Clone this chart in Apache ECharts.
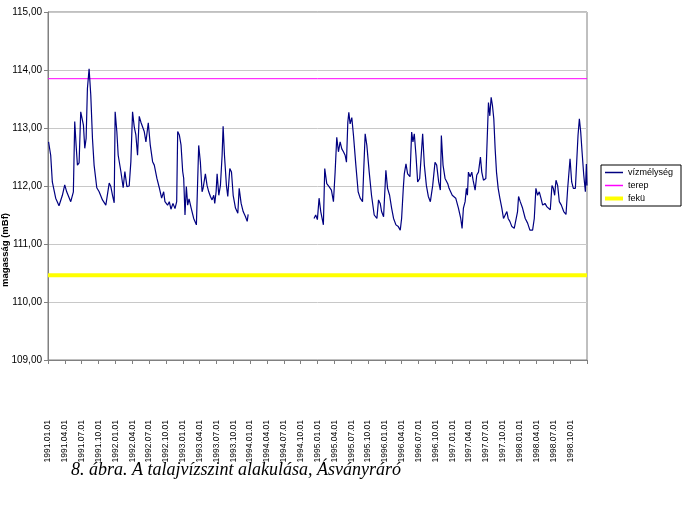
<!DOCTYPE html>
<html>
<head>
<meta charset="utf-8">
<script src="https://cdn.jsdelivr.net/npm/echarts@6/dist/echarts.min.js"></script>
<style>
  html, body { margin: 0; padding: 0; background: #fff; }
  #abra { width: 682px; height: 516px; }
</style>
</head>
<body>
<div id="abra"></div>
<script>
// mérés időpontja (hónap 1991.01.01-től) és vízszint (mBf); null = hiányzó adat
const honap = [
  0.1, 0.48, 0.77, 1.37, 1.96, 2.56, 2.98, 3.33, 4.05, 4.52,
  4.76, 5.0, 5.24, 5.54, 5.83, 6.13, 6.31, 6.55, 6.79, 7.02,
  7.32, 7.62, 7.92, 8.21, 8.69, 9.11, 9.7, 10.3, 10.9, 11.19,
  11.49, 11.79, 11.96, 12.26, 12.5, 12.98, 13.39, 13.69, 14.05, 14.46,
  14.76, 15.06, 15.36, 15.65, 15.95, 16.25, 16.55, 16.85, 17.14, 17.44,
  17.86, 18.21, 18.63, 18.93, 19.4, 19.82, 20.24, 20.6, 20.83, 21.3,
  21.6, 21.9, 22.26, 22.62, 22.92, 23.1, 23.39, 23.69, 23.99,
  24.17, 24.4, 24.64, 24.88, 25.12, 25.5, 25.95, 26.43, 26.67, 26.84,
  27.14, 27.44, 27.62, 28.03, 28.33, 28.63, 28.93, 29.22, 29.52, 29.7,
  29.94, 30.12, 30.42, 30.71, 31.01, 31.19, 31.43, 31.78, 32.02, 32.38,
  32.68, 32.98, 33.39, 33.81, 34.05, 34.4, 34.76, 35.18, 35.48, 35.65,
  41,
  47.38, 47.68, 47.98, 48.28, 48.58, 49.05, 49.29, 49.65, 50.06, 50.48,
  50.84, 51.14, 51.43, 51.73, 52.03, 52.33, 52.62, 52.92, 53.16, 53.4,
  53.58, 53.81, 54.11, 54.41, 54.83, 55.24, 55.6, 56.02, 56.2, 56.49,
  56.79, 57.21, 57.62, 58.1, 58.58, 58.87, 59.17, 59.41, 59.77, 60.18,
  60.48, 60.84, 61.2, 61.55, 61.97, 62.39, 62.74, 62.98, 63.28, 63.46,
  63.76, 64.05, 64.47, 64.77, 65.0, 65.24, 65.54, 65.84, 66.2, 66.43,
  66.73, 67.03, 67.39, 67.74, 68.1, 68.52, 68.93, 69.23, 69.58, 69.88,
  70.06, 70.36, 70.72, 71.2,
  71.43, 72.0, 72.62, 73.1, 73.51, 73.75, 73.99, 74.29, 74.52, 74.7,
  74.88, 75.18, 75.48, 75.71, 76.07, 76.37, 76.67, 77.02, 77.26, 77.56,
  77.98, 78.27, 78.45, 78.69, 78.93, 79.17, 79.4, 79.64, 79.88, 80.18,
  80.48, 80.83, 81.13, 81.43, 81.73, 81.96, 82.26, 82.62, 83.04, 83.33,
  83.63, 83.81, 84.11, 84.52, 85.0, 85.42, 85.83, 86.31, 86.61, 86.9,
  87.2, 87.5, 87.8, 88.1, 88.51, 88.87, 89.17, 89.46, 89.76, 90.0,
  90.24, 90.48, 90.77, 91.07, 91.43, 91.85, 92.26, 92.56, 92.98, 93.27,
  93.57, 93.93, 94.17, 94.4, 94.64, 94.88, 95.12, 95.42, 95.71, 95.89,
  96.0
];
const vizszint = [
  112.76, 112.53, 112.07, 111.79, 111.66, 111.84, 112.02, 111.90, 111.73, 111.90,
  113.11, 112.71, 112.36, 112.40, 113.28, 113.28, 113.05, 112.65, 112.82, 113.68,
  114.02, 113.57, 112.82, 112.36, 111.97, 111.90, 111.76, 111.67, 112.05, 111.99,
  111.84, 111.71, 113.28, 112.94, 112.53, 112.25, 111.97, 112.25, 111.99, 112.00,
  112.42, 113.28, 113.02, 112.88, 112.53, 113.20, 113.10, 113.11, 112.94, 112.76,
  113.09, 112.71, 112.42, 112.36, 112.13, 111.97, 111.79, 111.90, 111.73, 111.67,
  111.73, 111.60, 111.70, 111.61, 111.73, 112.94, 112.88, 112.71, 112.25,
  112.13, 111.50, 111.99, 111.67, 111.78, 111.62, 111.44, 111.33, 111.30, 112.70,
  112.41, 111.90, 111.96, 112.21, 112.01, 111.90, 111.82, 111.76, 111.84, 111.70,
  111.90, 112.21, 111.84, 112.01, 112.53, 113.03, 112.53, 112.01, 111.82, 112.30,
  112.24, 111.84, 111.62, 111.53, 111.96, 111.70, 111.56, 111.47, 111.39, 111.51,
  null,
  111.44, 111.50, 111.42, 111.79, 111.56, 111.33, 112.30, 112.04, 111.99, 111.93,
  111.73, 112.24, 112.84, 112.59, 112.76, 112.64, 112.59, 112.53, 112.41, 113.10,
  113.27, 113.07, 113.18, 112.87, 112.36, 111.90, 111.79, 111.73, 112.19, 112.90,
  112.70, 112.24, 111.84, 111.50, 111.44, 111.76, 111.70, 111.56, 111.47, 112.27,
  111.96, 111.84, 111.62, 111.44, 111.33, 111.30, 111.24, 111.44, 111.96, 112.21,
  112.38, 112.21, 112.16, 112.93, 112.76, 112.90, 112.53, 112.07, 112.13, 112.16,
  112.90, 112.36, 112.01, 111.82, 111.73, 112.01, 112.41, 112.36, 112.07, 111.93,
  112.87, 112.36, 112.13, 112.04,
  111.96, 111.84, 111.79, 111.62, 111.44, 111.27, 111.62, 111.73, 111.96, 111.84,
  112.24, 112.16, 112.24, 112.10, 111.93, 112.19, 112.24, 112.50, 112.24, 112.10,
  112.13, 112.16, 113.44, 113.21, 113.53, 113.38, 113.16, 112.64, 112.24, 111.96,
  111.79, 111.62, 111.44, 111.50, 111.56, 111.44, 111.39, 111.30, 111.27, 111.30,
  111.56, 111.82, 111.73, 111.62, 111.44, 111.36, 111.24, 111.24, 111.44, 111.96,
  111.84, 111.90, 111.79, 111.67, 111.70, 111.64, 111.67, 111.59, 112.01, 111.96,
  111.84, 112.10, 112.01, 111.73, 111.67, 111.56, 111.51, 111.96, 112.47, 112.07,
  111.96, 111.96, 111.93, 112.87, 113.16, 112.93, 112.59, 112.19, 111.90, 112.38,
  112.01
];
// terep és fekü szintje (mBf) a teljes időszakra
const terepHonap = [0, 96];
const terepSzint = [113.85, 113.85];
const fekuHonap = [0, 96];
const fekuSzint = [110.46, 110.46];

// negyedéves tengelyfeliratok
const cimkek = [
  "1991.01.01", "1991.04.01", "1991.07.01", "1991.10.01",
  "1992.01.01", "1992.04.01", "1992.07.01", "1992.10.01",
  "1993.01.01", "1993.04.01", "1993.07.01", "1993.10.01",
  "1994.01.01", "1994.04.01", "1994.07.01", "1994.10.01",
  "1995.01.01", "1995.04.01", "1995.07.01", "1995.10.01",
  "1996.01.01", "1996.04.01", "1996.07.01", "1996.10.01",
  "1997.01.01", "1997.04.01", "1997.07.01", "1997.10.01",
  "1998.01.01", "1998.04.01", "1998.07.01", "1998.10.01"
];

const zip = (xs, ys) => xs.map((x, i) => [x, ys[i]]);

const chart = echarts.init(document.getElementById("abra"));
chart.setOption({
  animation: false,
  backgroundColor: "#fff",
  textStyle: { fontFamily: "Liberation Sans, Arial, sans-serif" },
  grid: {
    left: 48, right: 95, top: 12, bottom: 156,
    show: true, borderColor: "#808080", borderWidth: 1
  },
  legend: {
    orient: "vertical",
    left: 601, top: 165,
    padding: [3, 8, 3, 2],
    itemGap: 4,
    itemWidth: 18,
    itemHeight: 9,
    borderColor: "#000",
    borderWidth: 1,
    itemStyle: { opacity: 0 },
    textStyle: { fontSize: 9, color: "#000" },
    data: [
      { name: "vízmélység", lineStyle: { width: 1.5 } },
      { name: "terep", lineStyle: { width: 1.5 } },
      { name: "fekü", lineStyle: { width: 4 } }
    ]
  },
  xAxis: {
    type: "value",
    min: 0, max: 96, interval: 3,
    axisLine: { lineStyle: { color: "#808080" } },
    axisTick: { length: 4, lineStyle: { color: "#808080" } },
    splitLine: { show: false },
    axisLabel: {
      rotate: 90,
      margin: 60,
      fontSize: 8.5,
      color: "#000",
      formatter: v => cimkek[Math.round(v / 3)] || ""
    }
  },
  yAxis: {
    type: "value",
    min: 109, max: 115, interval: 1,
    axisLine: { show: true, lineStyle: { color: "#808080" } },
    axisTick: { show: true, length: 4, lineStyle: { color: "#808080" } },
    splitLine: { lineStyle: { color: "#c8c8c8" } },
    axisLabel: {
      fontSize: 10,
      color: "#000",
      margin: 6,
      formatter: v => v.toFixed(2).replace(".", ",")
    }
  },
  graphic: [
    {
      type: "text",
      x: 5, y: 250,
      rotation: Math.PI / 2,
      style: {
        text: "magasság (mBf)",
        fontSize: 9.5,
        fontWeight: "bold",
        fontFamily: "Liberation Sans, Arial, sans-serif",
        fill: "#000",
        align: "center",
        verticalAlign: "middle"
      }
    },
    {
      type: "text",
      left: 71, top: 461,
      z: 100,
      style: {
        text: "8. ábra. A talajvízszint alakulása, Ásványráró",
        fontSize: 18,
        fontStyle: "italic",
        fontFamily: "Liberation Serif, Times New Roman, serif",
        fill: "#000"
      }
    }
  ],
  series: [
    {
      name: "fekü",
      type: "line",
      symbol: "none",
      lineStyle: { color: "#ffff00", width: 4 },
      itemStyle: { color: "#ffff00" },
      data: zip(fekuHonap, fekuSzint)
    },
    {
      name: "terep",
      type: "line",
      symbol: "none",
      lineStyle: { color: "#ff00ff", width: 1 },
      itemStyle: { color: "#ff00ff" },
      data: zip(terepHonap, terepSzint)
    },
    {
      name: "vízmélység",
      type: "line",
      symbol: "none",
      connectNulls: false,
      lineStyle: { color: "#000080", width: 1.2 },
      itemStyle: { color: "#000080" },
      data: zip(honap, vizszint)
    }
  ]
});
</script>
</body>
</html>
